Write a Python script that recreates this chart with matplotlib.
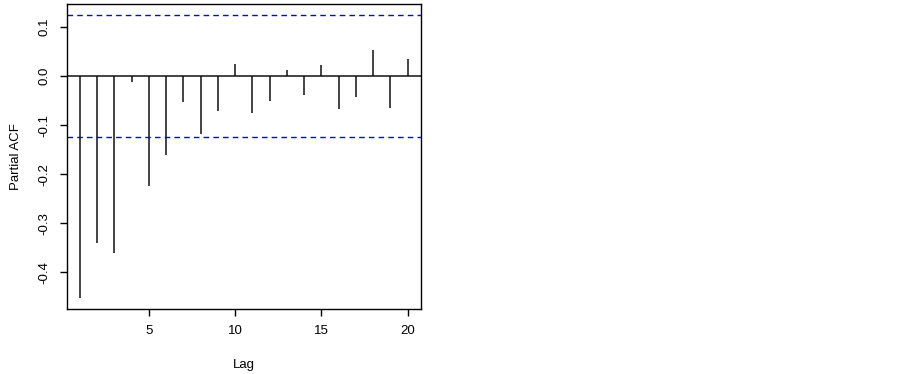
import matplotlib
matplotlib.use("Agg")
import matplotlib.pyplot as plt
import numpy as np

plt.rcParams['font.family'] = ['Liberation Sans', 'DejaVu Sans']

# partial autocorrelations
lags = np.arange(1, 21)
pacf = [-0.453, -0.341, -0.360, -0.013, -0.225, -0.161, -0.054, -0.118, -0.072, 0.024,
        -0.075, -0.050, 0.012, -0.039, 0.022, -0.068, -0.043, 0.053, -0.065, 0.034]
ci = 0.124  # 1.96/sqrt(n)

fig = plt.figure(figsize=(9.03, 3.74), dpi=100)
ax = fig.add_axes([0.0738, 0.173, 0.3921, 0.817])

ax.vlines(lags, 0, pacf, color='#111111', lw=1.1)
ax.axhline(0, color='#111111', lw=1.1)
ax.axhline(ci, color='#0000ff', lw=1, ls=(0, (4, 3)))
ax.axhline(-ci, color='#0000ff', lw=1, ls=(0, (4, 3)))

ax.set_xlim(0.24, 20.76)
ax.set_ylim(-0.475, 0.147)
ax.set_xticks([5, 10, 15, 20])
ax.set_yticks([-0.4, -0.3, -0.2, -0.1, 0.0, 0.1])
ax.set_yticklabels(['-0.4', '-0.3', '-0.2', '-0.1', '0.0', '0.1'], rotation=90, va='center')
ax.tick_params(length=5, width=1, labelsize=9.5)
ax.tick_params(axis='x', pad=6)
ax.tick_params(axis='y', pad=6.5)
for s in ax.spines.values():
    s.set_linewidth(1)

ax.set_xlabel('Lag', fontsize=9.5, labelpad=16)
ax.set_ylabel('Partial ACF', fontsize=9.5, labelpad=12)

fig.savefig('out.png', dpi=100)
